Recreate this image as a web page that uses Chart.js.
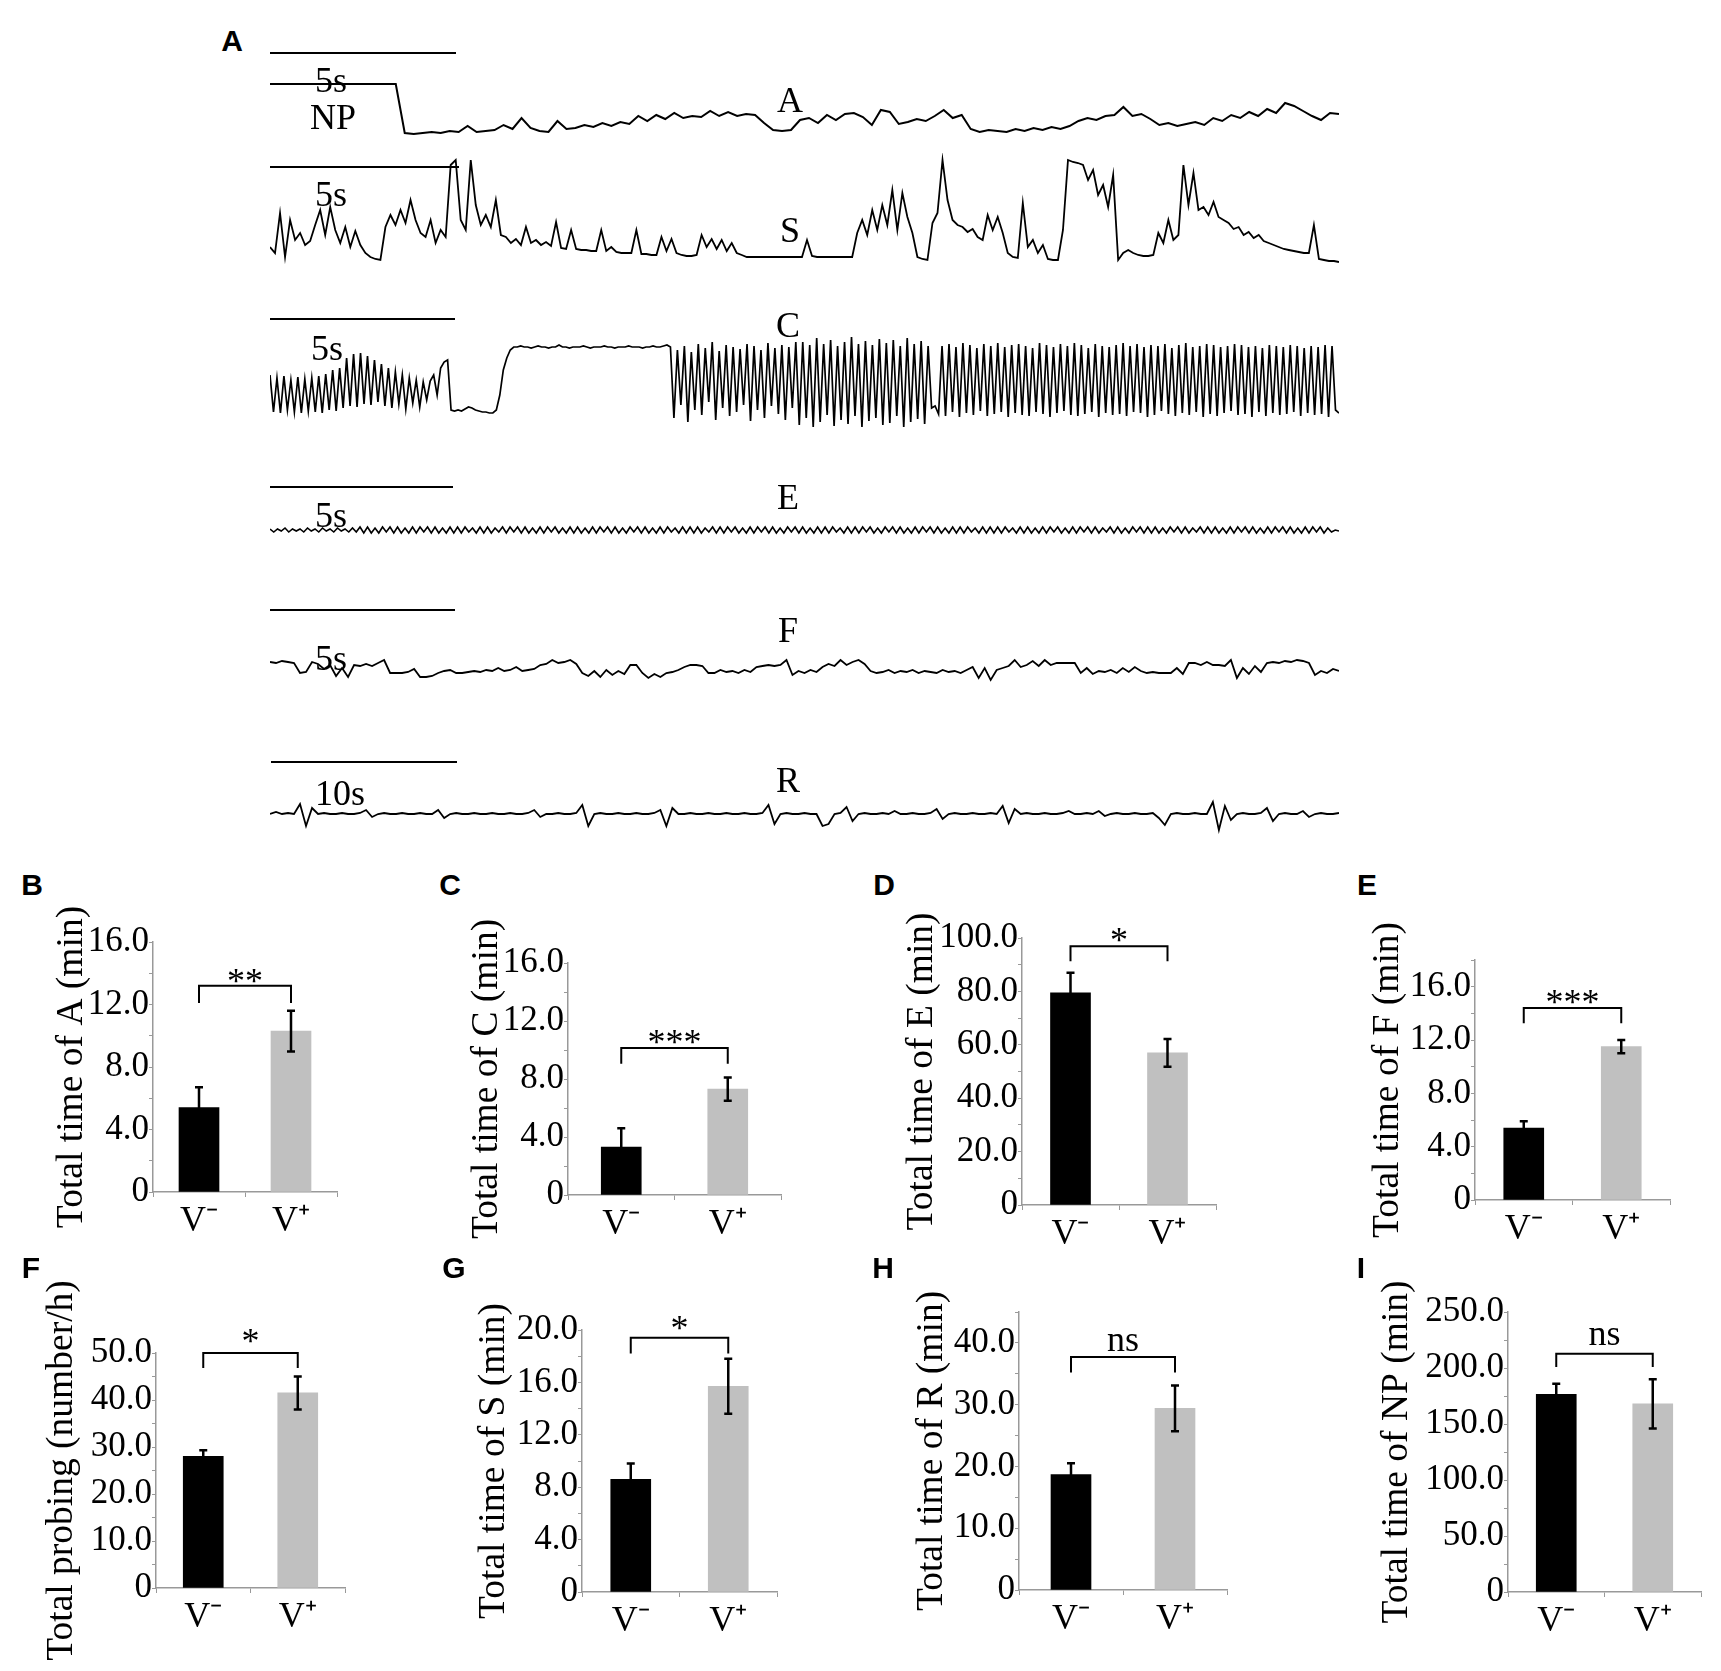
<!DOCTYPE html>
<html><head><meta charset="utf-8">
<script src="https://cdn.jsdelivr.net/npm/chart.js"></script>
<style>
html,body{margin:0;padding:0;background:#fff;}
#root{position:relative;width:1721px;height:1671px;overflow:hidden;background:#fff;}
canvas{position:absolute;}
.t{position:absolute;transform:translate(-50%,-50%);line-height:1;white-space:nowrap;color:#000;}
.serif{font-family:"Liberation Serif","Times New Roman",serif;font-size:36px;}
.lbl{font-family:"Liberation Sans",Arial,sans-serif;font-weight:bold;font-size:30px;}
.sbar{position:absolute;height:2.5px;background:#000;}
</style></head><body><div id="root"></div>
<script>
// ================= DATA =================
const categories = ['V\u207B', 'V\u207A'];

// bar panels: mean and SE (V-, V+)
const timeA_mean = [5.4, 10.3],   timeA_se = [1.3, 1.3];
const timeC_mean = [3.3, 7.3],    timeC_se = [1.3, 0.8];
const timeE_mean = [79.5, 57.0],  timeE_se = [7.5, 5.2];
const timeF_mean = [5.4, 11.5],   timeF_se = [0.5, 0.5];
const probing_mean = [28.0, 41.5], probing_se = [1.3, 3.5];
const timeS_mean = [8.6, 15.7],   timeS_se = [1.2, 2.1];
const timeR_mean = [18.7, 29.4],  timeR_se = [1.8, 3.7];
const timeNP_mean = [176.5, 168.0], timeNP_se = [9.5, 22.0];

// EPG waveform traces (relative amplitude, evenly sampled in time)
const waveA = [56,56,56,56,56,56,56,56,56,56,56,56,56,56,56,
 7,
 6,7,8,7,9,8,14,8,9,10,15,11,22,12,9,8,19,11,12,15,13,17,
 14,18,16,24,19,25,21,27,22,24,23,29,24,28,24,26,25,17,
 10,9,10,20,
 22,17,25,20,26,27,23,
 15,30,28,16,
 18,21,19,24,30,22,25,
 11,8,10,9,8,11,9,12,10,13,11,14,
 19,22,20,24,25,33,24,26,21,
 15,17,14,16,
 18,15,22,19,25,22,28,24,31,27,37,
 34,29,24,20,27,26];

const waveS = [18,12,52,8, 45,25,32,20,24, 40,55,30,58,35, 22,38,18,34,20, 12,8,6,5,
 38,50,40,55,42,65,45, 32,28,45,22,35,28,
 100,105,45,35,105,60,40,50,38,65,30,
 28,22,26,20,38,22,25,20,23,19, 43,17,
 16,35,16,15,15,14,14,35,14,18,13,12,12,12,35,11,11,10,10,28,14,26,12,10,9,9,10,30,18,26,16,25,14,22,12,10,8,8,8,8,8,8,8,8,8,8,8,
 8,25,9,8,8,8,8,8,8,8,8,
 32,45,30,55,35,60,40,75,35,72,48,
 32,8,6,5,42,52,105,65,
 45,40,38,33,36,28,25, 50,35,48,32, 12,8,7,
 62,18,25,12,20,6,5,5,
 35,105,103,102,100,85,95,70,80,58,90,
 5,12,15,12,10,9,9,10,
 32,22,45,25,30,100,60,92,55,58,50,63,48,45,
 42,36,38,30,33,27,30,24,22,20,
 18,16,15,14,13,12,12,40, 6,5,4,4,3];

const waveC = [55,18,52,17,54,20,50,18,53,17,51,19,52,18,54,17,56,20,60,19,62,
 22,72,24,76,23,77,26,74,25,70,28,
 66,24,62,22,58,26,55,21,52,27,50,23,48,30,49,
 55,35,62,68,70, 20,
 19,20,19,21,23,22,20,19,18,18,17,17,
 20,35,60,72,80,83,
 83,84,83,83,82,83,84,83,83,82,83,83,85,83,83,82,83,83,83,84,83,82,83,83,83,84,83,83,82,83,83,83,84,83,83,83,82,83,83,84,83,83,84,85,83,
 12,80,25,84,8,78,20,86,15,82,28,88,10,79,22,85,14,83,18,81,25,86,9,84,20,80,12,87,24,82,16,85,10,83,22,88,
 5,88,12,85,3,92,8,86,15,90,4,84,10,88,6,93,14,86,3,89,9,85,12,91,5,87,7,90,14,84,3,92,8,86,11,89,6,84,
 22,24,
 16,84,14,86,18,83,13,87,17,85,15,82,19,86,14,84,16,87,18,83,
 13,85,17,86,15,84,14,82,18,87,16,85,13,83,17,86,19,84,15,87,
 14,85,16,82,18,86,13,84,17,83,15,85,16,87,14,84,18,86,17,83,
 13,85,15,84,19,86,16,82,14,85,17,87,15,83,18,84,13,86,16,85,
 14,83,17,84,19,86,15,85,16,83,13,84,18,82,14,85,17,84,15,83,
 16,85,18,84,14,82,17,84,15,83,16,85,13,84,
 20,17];

const waveE = [7,4,7,5,8,4,7,5,7,4,8,5,7,4,8,5,7,4,8,5,7,4,8,4,
 9,3,9,3,8,3,9,4,9,3,9,3,8,3,9,3,9,4,9,3,
 9,3,8,3,9,3,9,3,9,4,8,3,9,3,9,3,8,4,9,3,
 9,4,9,3,9,3,8,3,9,3,9,4,9,3,8,3,9,3,9,3,
 8,3,9,3,9,4,9,3,9,3,8,3,9,4,9,3,9,3,8,3,
 9,3,9,4,8,3,9,3,9,3,9,3,8,4,9,3,9,3,9,4,
 9,3,8,3,9,3,9,4,9,3,9,3,8,3,9,4,9,3,9,3,
 8,3,9,3,9,3,9,4,8,3,9,3,9,3,9,4,9,3,8,3,
 9,4,9,3,9,3,8,3,9,3,9,4,9,3,9,3,8,3,9,3,
 9,3,9,4,8,3,9,3,9,3,9,3,9,4,8,3,9,3,9,3,
 8,3,9,3,9,4,9,3,8,3,9,3,9,4,9,3,9,3,8,4,
 9,3,9,3,8,3,9,4,9,3,9,3,9,3,8,3,9,4,9,3,
 9,3,8,4,9,3,9,3,9,3,8,3,9,3,9,4,9,3,9,3,
 8,3,9,3,9,4,9,3,9,3,8,3,9,3,9,4,9,3,8,4,
 6,5];

const waveF = [18,17,19,18,17, 7,8,18,16,11,15, 4,12,3,15,14,16,14,17,20,
 7,7,7,8,11,3,3,4, 7,9,10,7,7,
 8,9,8,10,9,12,9,10,13,9,10,11,
 15,16,20,17,18,20,16,
 7,4,9,3,10,5,9,6, 15,15,7,2,6,3,
 7,8,10,13,15,15,14, 7,7,10,8,9,7,10,8,
 13,14,15,14,15,20, 5,9,7,10,8,
 13,16,14,20,15,18,20,16,
 9,7,8,10,7,9,8,10,7,9,8,7,10,8,9,7,10,
 13,2,12,0,10,
 12,14,20,13,15,19,14,20,15,
 17,17,17,17, 7,12,6,
 9,8,10,7,12,8,13,9,7,8, 7,7,7,
 12,6,17,17,15,18,15,15,14,20,
 2,12,6,14,8,
 17,18,17,19,18,20,19,17,
 5,9,7,11,9];

const waveR = [0,2,0,1,0,10,-12,6,0,1,0,0,1,0,0,1,4,-3,0,1,
 0,0,1,0,0,1,0,0,4,-4,0,1,0,0,1,0,0,1,0,0,
 1,0,0,1,4,-3,0,0,1,0,0,1,9,-12,0,1,0,0,1,0,
 0,1,0,0,1,4,-12,6,0,0,1,0,0,1,0,0,1,0,0,1,
 0,0,1,9,-10,0,1,0,0,1,0,0,-12,-10,0,1,7,-7,0,1,
 0,0,1,0,3,0,0,1,0,0,1,5,-5,0,1,0,0,1,0,0,
 1,0,8,-9,5,0,1,0,0,1,0,0,1,3,0,0,1,0,3,-2,
 0,1,0,0,1,0,0,1,-4,-11,0,1,0,0,1,0,0,12,-16,8,
 -6,0,1,0,0,1,6,-7,0,1,0,0,3,-3,0,1,0,0,1];

// ================= LAYOUT =================
const root = document.getElementById('root');
const SERIF = '"Liberation Serif","Times New Roman",serif';

function addText(txt, x, y, cls) {
  const d = document.createElement('div');
  d.className = 't ' + cls;
  d.style.left = x + 'px'; d.style.top = y + 'px';
  d.textContent = txt;
  root.appendChild(d);
}
function addScaleBar(x1, x2, y) {
  const d = document.createElement('div');
  d.className = 'sbar';
  d.style.left = x1 + 'px'; d.style.top = (y - 1.25) + 'px'; d.style.width = (x2 - x1) + 'px';
  root.appendChild(d);
}
function addCanvas(left, top, w, h) {
  const c = document.createElement('canvas');
  c.width = w; c.height = h;
  c.style.left = left + 'px'; c.style.top = top + 'px';
  c.style.width = w + 'px'; c.style.height = h + 'px';
  root.appendChild(c);
  return c;
}

// ---- Panel A: waveform traces ----
const TRACE_X = 270, TRACE_W = 1069;
function drawTrace(values, base, min, max, lw) {
  const c = addCanvas(TRACE_X, base - max, TRACE_W, max - min);
  new Chart(c, {
    type: 'line',
    data: { labels: values.map((_, i) => i),
      datasets: [{ data: values, borderColor: '#000', borderWidth: lw, pointRadius: 0, tension: 0, clip: 10, borderJoinStyle: 'miter' }] },
    options: { responsive: false, animation: false, events: [], layout: { padding: 0 },
      plugins: { legend: { display: false }, tooltip: { enabled: false } },
      scales: { x: { display: false }, y: { display: false, min: min, max: max } } }
  });
}
drawTrace(waveA, 140, -4, 62, 2);
drawTrace(waveS, 265, -6, 112, 1.8);
drawTrace(waveC, 430, -5, 98, 1.7);
drawTrace(waveE, 536, -3, 12, 1.6);
drawTrace(waveF, 680, -4, 25, 1.8);
drawTrace(waveR, 814, -20, 16, 1.8);

addScaleBar(270, 456, 53);
addScaleBar(270, 459, 167);
addScaleBar(270, 455, 319);
addScaleBar(270, 453, 487);
addScaleBar(270, 455, 610);
addScaleBar(271, 457, 762);

addText('A', 232, 41, 'lbl');
addText('5s', 331, 80, 'serif');  addText('NP', 333, 117, 'serif'); addText('A', 790, 100, 'serif');
addText('5s', 331, 194, 'serif'); addText('S', 790, 230, 'serif');
addText('5s', 327, 348, 'serif'); addText('C', 788, 325, 'serif');
addText('5s', 331, 515, 'serif'); addText('E', 788, 497, 'serif');
addText('5s', 331, 658, 'serif'); addText('F', 788, 630, 'serif');
addText('10s', 340, 793, 'serif'); addText('R', 788, 780, 'serif');

// ---- Bar panels B-I ----
const YW = 150, TP = 110, RP = 12, XH = 70, BP = 70;
const TICK_FS = 35, TITLE_FS = 37.5, XLAB_FS = 36, SIG_FS = 36;
const panels = [
  { letter: 'B', lx: 32, ly: 885, left: 152.7, right: 337, top: 941.7, bottom: 1192, max: 16, step: 2, every: 4,
    title: 'Total time of A (min)', tOff: 81, sig: '**', bTop: 13.2, bLeg: 12.1, sY: 13.8, means: timeA_mean, errs: timeA_se },
  { letter: 'C', lx: 450, ly: 885, left: 567.5, right: 780.7, top: 963, bottom: 1195, max: 16, step: 2, every: 4,
    title: 'Total time of C (min)', tOff: 81, sig: '***', bTop: 10.13, bLeg: 9.05, sY: 10.9, means: timeC_mean, errs: timeC_se },
  { letter: 'D', lx: 884, ly: 885, left: 1022, right: 1215.6, top: 938, bottom: 1205, max: 100, step: 10, every: 20,
    title: 'Total time of E (min)', tOff: 100, sig: '*', bTop: 96.9, bLeg: 91.25, sY: 101, means: timeE_mean, errs: timeE_se },
  { letter: 'E', lx: 1367, ly: 885, left: 1475, right: 1670, top: 960, bottom: 1200, max: 18, step: 2, every: 4,
    title: 'Total time of F (min)', tOff: 87, sig: '***', bTop: 14.4, bLeg: 13.25, sY: 15.25, means: timeF_mean, errs: timeF_se },
  { letter: 'F', lx: 31, ly: 1268, left: 156, right: 345, top: 1353, bottom: 1588, max: 50, step: 5, every: 10,
    title: 'Total probing (number/h)', tOff: 94, sig: '*', bTop: 50, bLeg: 46.8, sY: 53.5, means: probing_mean, errs: probing_se },
  { letter: 'G', lx: 454, ly: 1268, left: 582, right: 777, top: 1330, bottom: 1591.7, max: 20, step: 2, every: 4,
    title: 'Total time of S (min)', tOff: 88, sig: '*', bTop: 19.4, bLeg: 18.2, sY: 20.5, means: timeS_mean, errs: timeS_se },
  { letter: 'H', lx: 883, ly: 1268, left: 1019, right: 1227, top: 1311.7, bottom: 1590, max: 45, step: 5, every: 10,
    title: 'Total time of R (min)', tOff: 87, sig: 'ns', bTop: 37.7, bLeg: 35.2, sY: 40, means: timeR_mean, errs: timeR_se },
  { letter: 'I', lx: 1361, ly: 1268, left: 1507.5, right: 1700, top: 1311.7, bottom: 1591.7, max: 250, step: 25, every: 50,
    title: 'Total time of NP (min)', tOff: 111, sig: 'ns', bTop: 212.8, bLeg: 200.9, sY: 227.7, means: timeNP_mean, errs: timeNP_se }
];

function drawPanel(p) {
  addText(p.letter, p.lx, p.ly, 'lbl');
  const aw = Math.round(p.right - p.left), ah = Math.round(p.bottom - p.top);
  const c = addCanvas(Math.round(p.left) - YW, Math.round(p.top) - TP, aw + YW + RP, ah + TP + XH + BP);
  const annot = {
    id: 'annot' + p.letter,
    afterDatasetsDraw(chart) {
      const { ctx, scales: { x, y } } = chart;
      ctx.save();
      ctx.strokeStyle = '#000';
      ctx.lineWidth = 2.5;
      p.means.forEach((m, i) => {
        const cx = x.getPixelForValue(i);
        const yt = y.getPixelForValue(m + p.errs[i]), yb = y.getPixelForValue(m - p.errs[i]);
        ctx.beginPath();
        ctx.moveTo(cx, yt); ctx.lineTo(cx, yb);
        ctx.moveTo(cx - 4, yt); ctx.lineTo(cx + 4, yt);
        ctx.moveTo(cx - 4, yb); ctx.lineTo(cx + 4, yb);
        ctx.stroke();
      });
      const x0 = x.getPixelForValue(0), x1 = x.getPixelForValue(1);
      const yT = y.getPixelForValue(p.bTop), yL = y.getPixelForValue(p.bLeg);
      ctx.lineWidth = 2;
      ctx.beginPath();
      ctx.moveTo(x0, yL); ctx.lineTo(x0, yT); ctx.lineTo(x1, yT); ctx.lineTo(x1, yL);
      ctx.stroke();
      ctx.fillStyle = '#000';
      ctx.font = SIG_FS + 'px ' + SERIF;
      ctx.textAlign = 'center';
      ctx.textBaseline = 'alphabetic';
      const off = p.sig === 'ns' ? 0.23 * SIG_FS : 0.47 * SIG_FS;
      ctx.fillText(p.sig, (x0 + x1) / 2, y.getPixelForValue(p.sY) + off);
      ctx.restore();
    }
  };
  const lh = TITLE_FS * 1.2;
  new Chart(c, {
    type: 'bar',
    data: { labels: categories,
      datasets: [{ data: p.means, backgroundColor: ['#000000', '#c0c0c0'], borderWidth: 0, barThickness: 40 }] },
    options: {
      responsive: false, animation: false, events: [],
      layout: { padding: { top: TP, right: RP, left: 0, bottom: BP } },
      plugins: { legend: { display: false }, tooltip: { enabled: false } },
      scales: {
        x: {
          grid: { drawOnChartArea: false, tickLength: 5, color: '#999', lineWidth: 1 },
          border: { color: '#999', width: 1.5 },
          ticks: { color: '#000', font: { family: SERIF, size: XLAB_FS }, padding: 3 },
          afterFit: s => { s.height = XH; }
        },
        y: {
          min: 0, max: p.max,
          grid: { drawOnChartArea: false, tickLength: 4, color: '#999', lineWidth: 1 },
          border: { color: '#999', width: 1.5 },
          ticks: { stepSize: p.step, autoSkip: false, maxTicksLimit: 30, color: '#000', padding: 0,
            font: { family: SERIF, size: TICK_FS },
            callback: v => (Math.abs(v % p.every) < 1e-6 ? (v === 0 ? '0' : v.toFixed(1)) : '') },
          title: { display: true, text: p.title, color: '#000', font: { family: SERIF, size: TITLE_FS },
            padding: { top: Math.max(0, YW - p.tOff - lh / 2), bottom: 0 } },
          afterFit: s => { s.width = YW; }
        }
      }
    },
    plugins: [annot]
  });
}
panels.forEach(drawPanel);
</script></body></html>
